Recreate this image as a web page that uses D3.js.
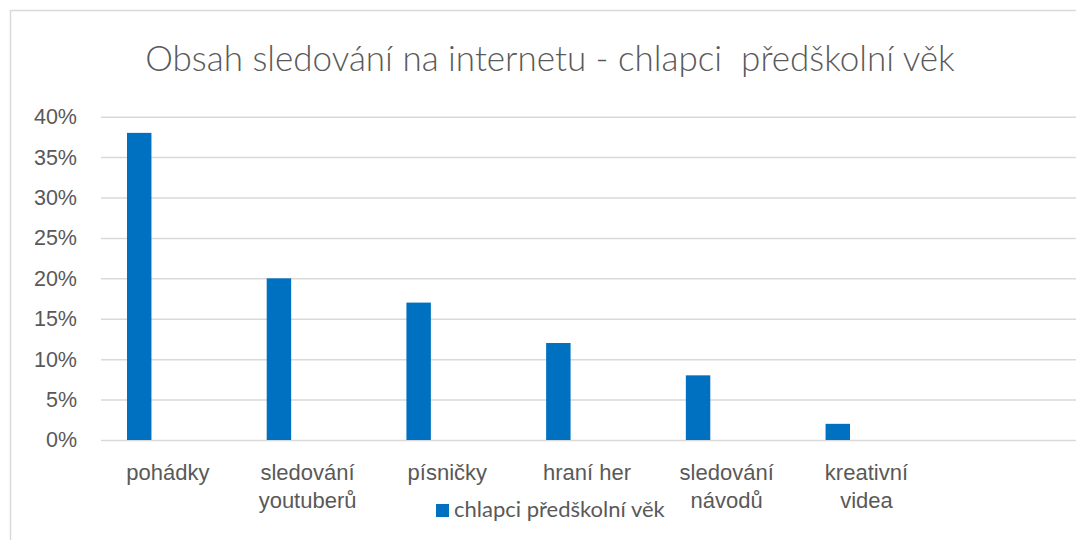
<!DOCTYPE html>
<html>
<head>
<meta charset="utf-8">
<script src="https://cdn.jsdelivr.net/npm/d3@7"></script>
<style>
  html, body { margin: 0; padding: 0; background: #fff; }
  svg { display: block; font-family: Lato, "Open Sans", sans-serif; }
</style>
</head>
<body>
<div id="d3"></div>
<script>
// data
const categories = ["pohádky", "sledování\nyoutuberů", "písničky", "hraní her", "sledování\nnávodů", "kreativní\nvidea", ""];
const values = [0.38, 0.20, 0.17, 0.12, 0.08, 0.02];
const seriesName = "chlapci předškolní věk";
const yTicks = [0, 0.05, 0.1, 0.15, 0.2, 0.25, 0.3, 0.35, 0.4];
const title = "Obsah sledování na internetu - chlapci  předškolní věk";

const width = 1076;
const height = 540;
const plot = { left: 101, right: 1079, top: 116.7, bottom: 440 };
const textColor = "#595959";
const gridColor = "#d9d9d9";
const barColor = "#0070c0";

const svg = d3
  .select("#d3")
  .append("svg")
  .attr("width", width)
  .attr("height", height);

// chart frame (runs off the right and bottom of the picture)
svg
  .append("rect")
  .attr("x", 10.5)
  .attr("y", 10.5)
  .attr("width", 1200)
  .attr("height", 700)
  .attr("fill", "none")
  .attr("stroke", gridColor)
  .attr("stroke-width", 1.5);

svg
  .append("text")
  .attr("x", 550)
  .attr("y", 71)
  .attr("text-anchor", "middle")
  .style("font-size", "35px")
  .style("font-weight", 300)
  .style("white-space", "pre")
  .attr("fill", textColor)
  .text(title);

const x = d3
  .scaleBand()
  .domain(categories)
  .range([plot.left, plot.right])
  .padding(0);

const y = d3.scaleLinear().domain([0, 0.4]).range([plot.bottom, plot.top]);

// y axis with gridlines
const yAxis = svg
  .append("g")
  .attr("transform", `translate(${plot.left},0)`)
  .call(
    d3
      .axisLeft(y)
      .tickValues(yTicks)
      .tickFormat(d3.format(".0%"))
      .tickSize(-(width - plot.left))
      .tickPadding(24)
  );
yAxis.select(".domain").remove();
yAxis.selectAll(".tick line").attr("stroke", gridColor).attr("stroke-width", 1.5);
yAxis
  .selectAll(".tick text")
  .attr("fill", textColor)
  .style("font-size", "21.5px")
  .attr("font-family", null);

// bars
svg
  .append("g")
  .selectAll("rect")
  .data(values)
  .enter()
  .append("rect")
  .attr("x", (d, i) => x(categories[i]) + x.bandwidth() * 0.186)
  .attr("y", (d) => y(d))
  .attr("width", x.bandwidth() * 0.175)
  .attr("height", (d) => y(0) - y(d))
  .attr("fill", barColor);

// category labels
const xAxis = svg
  .append("g")
  .attr("transform", `translate(0,${plot.bottom})`)
  .call(d3.axisBottom(x).tickSize(0).tickFormat(""));
xAxis.select(".domain").remove();
xAxis
  .selectAll(".tick")
  .append("text")
  .attr("text-anchor", "middle")
  .attr("fill", textColor)
  .style("font-size", "22px")
  .attr("x", -3)
  .selectAll("tspan")
  .data((d) => d.split("\n"))
  .enter()
  .append("tspan")
  .attr("x", -3)
  .attr("y", (d, i) => 40 + i * 28)
  .text((d) => d);

// legend
const legend = svg.append("g").attr("transform", "translate(436,504)");
legend.append("rect").attr("width", 13).attr("height", 13).attr("fill", barColor);
legend
  .append("text")
  .attr("x", 18)
  .attr("y", 13)
  .attr("fill", textColor)
  .style("font-size", "22px")
  .text(seriesName);
</script>
</body>
</html>
